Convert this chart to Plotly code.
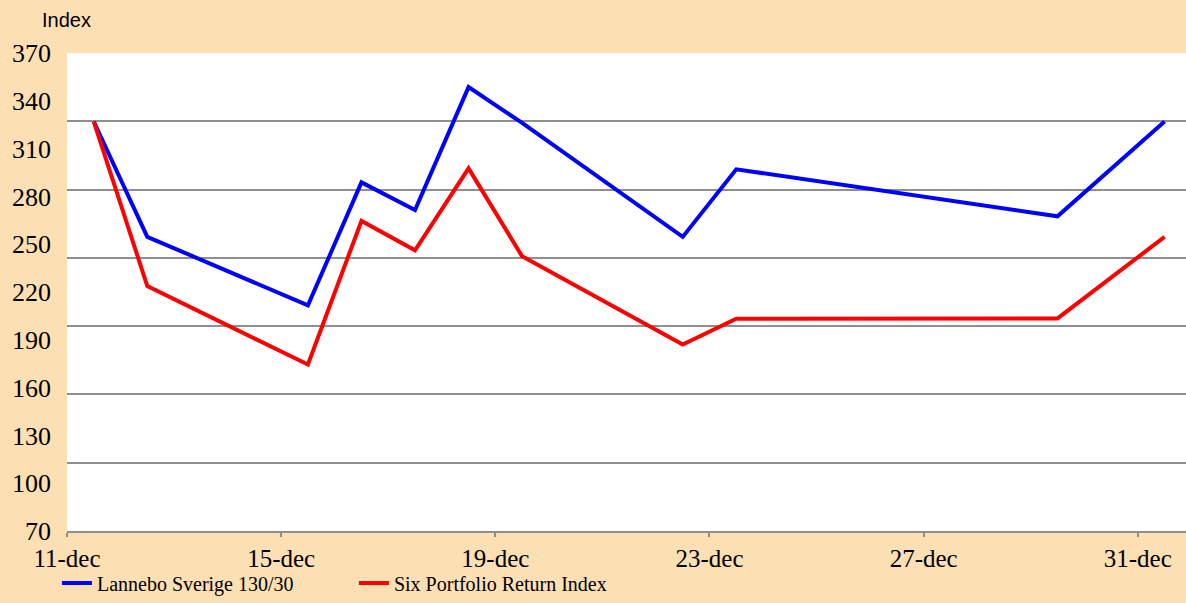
import pandas as pd
import plotly.graph_objects as go

dates = ["2008-12-11", "2008-12-12", "2008-12-15", "2008-12-16", "2008-12-17", "2008-12-18",
         "2008-12-19", "2008-12-22", "2008-12-23", "2008-12-29", "2008-12-31"]
lannebo = [327.0, 254.6, 211.6, 288.8, 271.4, 348.6, 326.1, 254.6, 297.0, 267.5, 327.0]
six_index = [327.0, 223.7, 174.5, 264.6, 246.2, 297.6, 242.4, 187.0, 203.2, 203.4, 254.6]
tick_dates = ["2008-12-11", "2008-12-15", "2008-12-19", "2008-12-23", "2008-12-27", "2008-12-31"]
tick_text = ["11-dec", "15-dec", "19-dec", "23-dec", "27-dec", "31-dec"]
y_labels = [70, 100, 130, 160, 190, 220, 250, 280, 310, 340, 370]

# Excel date axis centres each point in the middle of its day
x = pd.to_datetime(dates) + pd.Timedelta(hours=12)

BG = "#FCDFB3"
GRID = "#8f8f8f"
SERIF = "Liberation Serif, Times New Roman, serif"

fig = go.Figure()
fig.add_trace(go.Scatter(x=x, y=lannebo, mode="lines", name="Lannebo Sverige 130/30",
                         line=dict(color="#0000FF", width=4)))
fig.add_trace(go.Scatter(x=x, y=six_index, mode="lines", name="Six Portfolio Return Index",
                         line=dict(color="#FF0000", width=4)))
# empty trace so the label axis is drawn
fig.add_trace(go.Scatter(x=[], y=[], yaxis="y2", showlegend=False, hoverinfo="skip"))

fig.update_layout(
    width=1186, height=603,
    paper_bgcolor=BG, plot_bgcolor="white",
    margin=dict(l=67, r=0, t=53, b=72),
    font=dict(family=SERIF, color="black"),
    xaxis=dict(
        type="date",
        range=["2008-12-11 00:00", "2008-12-31 21:36"],
        tickvals=pd.to_datetime(tick_dates), ticktext=tick_text,
        showgrid=False, showline=True, linecolor=GRID, linewidth=2,
        ticks="outside", ticklen=4, tickwidth=2, tickcolor=GRID,
        tickfont=dict(family=SERIF, size=25, color="black"),
        ticklabelstandoff=0, zeroline=False,
    ),
    yaxis=dict(
        range=[70, 370], tick0=70, dtick=300 / 7,
        showticklabels=False, showgrid=True, gridcolor=GRID, gridwidth=2,
        zeroline=False, showline=False, ticks="",
    ),
    yaxis2=dict(
        overlaying="y", side="left", range=[70, 370],
        tickvals=y_labels, ticktext=[str(v) for v in y_labels],
        showgrid=False, zeroline=False, showline=False, ticks="",
        tickfont=dict(family=SERIF, size=26, color="black"),
        ticklabelstandoff=15,
    ),
    showlegend=True,
    legend=dict(
        orientation="h", x=-0.009, xanchor="left", y=-0.1498, yanchor="bottom",
        font=dict(family=SERIF, size=20, color="black"),
        bgcolor="rgba(0,0,0,0)", entrywidth=252, entrywidthmode="pixels",
        itemclick=False,
    ),
    annotations=[dict(
        text="Index", xref="paper", yref="paper", x=-0.0245, y=1.07,
        xanchor="left", yanchor="middle", showarrow=False,
        font=dict(family="Liberation Sans, Arial, sans-serif", size=20, color="black"),
    )],
)

fig.write_html(
    "out.html",
    config={"displayModeBar": False, "responsive": False},
    post_script="document.body.style.margin='0';document.body.style.overflow='hidden';",
)
